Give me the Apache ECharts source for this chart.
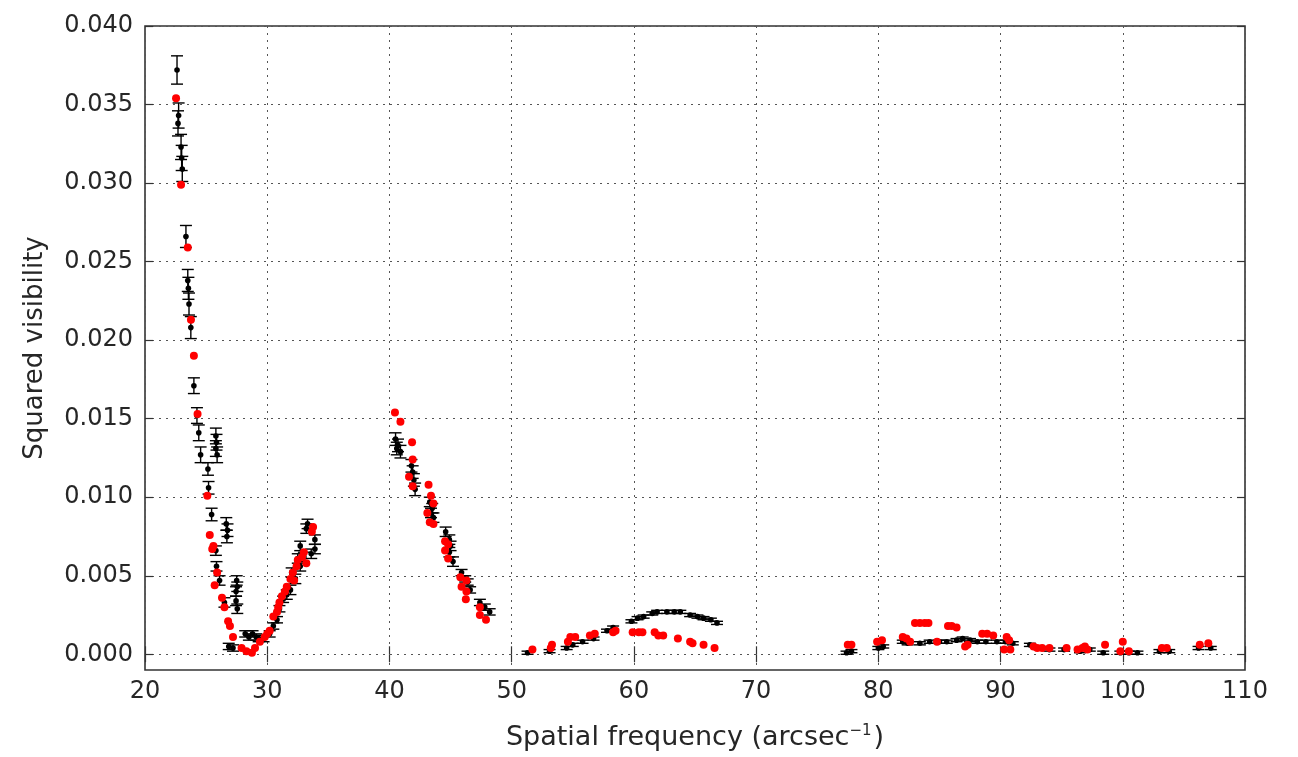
<!DOCTYPE html>
<html>
<head>
<meta charset="utf-8">
<title>Squared visibility vs spatial frequency</title>
<script src="https://cdn.jsdelivr.net/npm/echarts@6/dist/echarts.min.js"></script>
<style>
  html, body { margin: 0; padding: 0; background: #ffffff; }
  #chart { width: 1298px; height: 757px; }
</style>
</head>
<body>
<div id="chart"></div>
<script>
// Measured squared visibilities: spatial frequency, V^2, 1-sigma error
const measFreq = [
  22.62, 22.75, 22.70, 22.95, 23.00, 23.05, 23.35, 23.50, 23.55, 23.60, 23.75,
  24.00, 24.25, 24.40, 24.55, 25.15, 25.80, 25.85, 25.80, 25.90, 25.20, 25.45,
  26.65, 26.75, 26.70, 25.80, 25.85, 26.10, 27.50, 27.55, 27.45, 26.50, 27.45,
  27.55, 26.85, 27.20, 28.20, 28.50, 28.80, 29.10, 29.30, 29.70, 30.20, 30.50,
  30.80, 31.00, 31.30, 31.60, 31.90, 32.00, 32.30, 32.50, 32.70, 32.70, 33.00,
  33.30, 33.20, 33.90, 33.90, 33.60,
  40.50, 40.70, 40.90, 40.60, 41.80, 41.90, 42.00, 42.10, 43.30, 43.50, 43.60,
  43.40, 44.60, 44.90, 45.00, 44.90, 45.20, 45.90, 46.20, 46.40, 46.60, 47.40,
  47.80, 48.20,
  51.30, 53.10, 54.50, 55.00, 55.80, 56.70, 57.80, 58.30, 59.80, 60.30, 60.80,
  61.50, 61.90, 62.70, 63.30, 63.80, 64.60, 65.20, 65.70, 66.30, 66.80,
  77.40, 77.80, 80.00, 80.40, 82.00, 82.40, 83.40, 84.20, 85.00, 85.60, 86.40,
  86.90, 87.50, 88.10, 88.80, 89.70, 90.40, 91.00, 92.40, 93.20, 94.00, 95.20,
  96.50, 97.30, 98.40, 99.80, 100.50, 101.20, 103.00, 103.80, 106.20, 107.20
];
const measVis = [
  0.0372, 0.0343, 0.0338, 0.0323, 0.0316, 0.0309, 0.0266, 0.0238, 0.0233, 0.0223, 0.0208,
  0.0171, 0.0152, 0.0141, 0.0127, 0.0118, 0.0139, 0.0135, 0.0131, 0.0127, 0.0106, 0.0089,
  0.0083, 0.0079, 0.0075, 0.0066, 0.0056, 0.0047, 0.0047, 0.0043, 0.0040, 0.0033, 0.0034,
  0.0029, 0.0005, 0.0004, 0.0013, 0.0011, 0.0013, 0.0011, 0.0010, 0.0010, 0.0013, 0.0018,
  0.0022, 0.0029, 0.0035, 0.0038, 0.0041, 0.0052, 0.0048, 0.0061, 0.0056, 0.0069, 0.0062,
  0.0083, 0.0080, 0.0073, 0.0067, 0.0064,
  0.0137, 0.0133, 0.0129, 0.0131, 0.0120, 0.0116, 0.0111, 0.0105, 0.0097, 0.0093, 0.0087,
  0.0090, 0.0078, 0.0073, 0.0069, 0.0065, 0.0059, 0.0052, 0.0048, 0.0046, 0.0041, 0.0033,
  0.0030, 0.0027,
  0.0001, 0.0002, 0.0004, 0.0006, 0.0008, 0.0010, 0.0015, 0.0017, 0.0021, 0.0023, 0.0024,
  0.0026, 0.0027, 0.0027, 0.0027, 0.0027, 0.0025, 0.0024, 0.0023, 0.0022, 0.0020,
  0.0001, 0.0002, 0.0004, 0.0005, 0.0008, 0.0007, 0.0007, 0.0008, 0.0008, 0.0008, 0.0009,
  0.0010, 0.0009, 0.0008, 0.0008, 0.0008, 0.0008, 0.0007, 0.0006, 0.0004, 0.0003, 0.0003,
  0.0002, 0.0003, 0.0001, 0.0001, 0.0001, 0.0001, 0.0002, 0.0002, 0.0004, 0.0004
];
const measErr = [
  0.0009, 0.0008, 0.0008, 0.0008, 0.0008, 0.0008, 0.0007, 0.0007, 0.0007, 0.0007, 0.0007,
  0.0005, 0.0005, 0.0005, 0.0005, 0.0004, 0.0005, 0.0005, 0.0005, 0.0005, 0.0004, 0.0004,
  0.0004, 0.0004, 0.0004, 0.0003, 0.0003, 0.0003, 0.0003, 0.0003, 0.0003, 0.0003, 0.0003,
  0.0003, 0.0002, 0.0002, 0.0002, 0.0002, 0.0002, 0.0002, 0.0002, 0.0002, 0.0002, 0.0002,
  0.0002, 0.0002, 0.0002, 0.0003, 0.0003, 0.0003, 0.0003, 0.0003, 0.0003, 0.0003, 0.0003,
  0.0003, 0.0003, 0.0003, 0.0003, 0.0003,
  0.0004, 0.0004, 0.0004, 0.0004, 0.0004, 0.0004, 0.0004, 0.0004, 0.0003, 0.0003, 0.0003,
  0.0003, 0.0003, 0.0003, 0.0003, 0.0003, 0.0003, 0.0002, 0.0002, 0.0002, 0.0002, 0.0002,
  0.0002, 0.0002,
  0.0001, 0.0001, 0.0001, 0.0001, 0.0001, 0.0001, 0.0001, 0.0001, 0.0001, 0.0001, 0.0001,
  0.0001, 0.0001, 0.0001, 0.0001, 0.0001, 0.0001, 0.0001, 0.0001, 0.0001, 0.0001,
  0.0001, 0.0001, 0.0001, 0.0001, 0.0001, 0.0001, 0.0001, 0.0001, 0.0001, 0.0001, 0.0001,
  0.0001, 0.0001, 0.0001, 0.0001, 0.0001, 0.0001, 0.0001, 0.0001, 0.0001, 0.0001, 0.0001,
  0.0001, 0.0001, 0.0001, 0.0001, 0.0001, 0.0001, 0.0001, 0.0001, 0.0001, 0.0001
];

// Model squared visibilities
const modelFreq = [
  22.54, 22.95, 23.50, 23.76, 24.00, 24.30, 25.10, 25.30, 25.60, 25.50, 25.90,
  25.70, 26.30, 26.50, 26.80, 26.95, 27.20, 27.90, 28.30, 28.75, 29.00, 29.40,
  29.80, 30.00, 30.20, 30.50, 30.80, 30.90, 31.00, 31.20, 31.45, 31.60, 31.90,
  32.10, 32.20, 32.40, 32.50, 32.85, 33.00, 33.20, 33.65, 33.75,
  40.45, 40.90, 41.85, 41.90, 41.60, 41.90, 43.20, 43.40, 43.60, 43.10, 43.30,
  43.60, 44.55, 44.80, 44.55, 44.80, 45.80, 46.30, 45.90, 46.30, 46.25, 47.40,
  47.40, 47.90,
  51.70, 53.30, 53.20, 54.60, 54.80, 55.20, 56.40, 56.80, 58.30, 58.50, 59.90,
  60.40, 60.70, 61.70, 62.00, 62.40, 63.60, 64.60, 64.80, 65.70, 66.60,
  77.50, 77.80, 79.90, 80.30, 82.00, 82.30, 82.60, 83.00, 83.40, 83.80, 84.10,
  84.80, 85.70, 86.00, 86.40, 87.30, 87.10, 88.50, 88.90, 89.40, 90.50, 90.30,
  90.80, 90.70, 92.70, 93.00, 93.40, 94.00, 95.40, 96.30, 96.70, 96.90, 97.10,
  98.55, 100.00, 99.80, 100.50, 103.20, 103.60, 106.30, 107.00
];
const modelVis = [
  0.0354, 0.0299, 0.0259, 0.0213, 0.0190, 0.0153, 0.0101, 0.0076, 0.0069, 0.0067, 0.0052,
  0.0044, 0.0036, 0.0030, 0.0021, 0.0018, 0.0011, 0.0004, 0.0002, 0.0001, 0.0004, 0.0008,
  0.0011, 0.0013, 0.0015, 0.0024, 0.0027, 0.0030, 0.0033, 0.0037, 0.0040, 0.0043, 0.0048,
  0.0052, 0.0047, 0.0056, 0.0060, 0.0062, 0.0065, 0.0058, 0.0078, 0.0081,
  0.0154, 0.0148, 0.0135, 0.0124, 0.0113, 0.0107, 0.0108, 0.0101, 0.0096, 0.0090, 0.0084,
  0.0083, 0.0072, 0.0070, 0.0066, 0.0061, 0.0049, 0.0047, 0.0043, 0.0040, 0.0035, 0.0030,
  0.0025, 0.0022,
  0.0003, 0.0006, 0.0004, 0.0008, 0.0011, 0.0011, 0.0012, 0.0013, 0.0014, 0.0015, 0.0014,
  0.0014, 0.0014, 0.0014, 0.0012, 0.0012, 0.0010, 0.0008, 0.0007, 0.0006, 0.0004,
  0.0006, 0.0006, 0.0008, 0.0009, 0.0011, 0.0010, 0.0008, 0.0020, 0.0020, 0.0020, 0.0020,
  0.0008, 0.0018, 0.0018, 0.0017, 0.0006, 0.0005, 0.0013, 0.0013, 0.0012, 0.0011, 0.0003,
  0.0003, 0.0009, 0.0005, 0.0004, 0.0004, 0.0004, 0.0004, 0.0003, 0.0004, 0.0005, 0.0003,
  0.0006, 0.0008, 0.0002, 0.0002, 0.0004, 0.0004, 0.0006, 0.0007
];

const yTicks = [0, 0.005, 0.010, 0.015, 0.020, 0.025, 0.030, 0.035, 0.040];

const measData = measFreq.map((f, i) => [f, measVis[i], measErr[i]]);
const modelData = modelFreq.map((f, i) => [f, modelVis[i]]);

const FONT = 'DejaVu Sans';
const INK = '#262626';
const TICK_FONT = 24;
const GRID_LINE = { show: true, lineStyle: { color: '#555555', width: 1, type: [2, 5] } };
const TICK_LINE = { color: '#333333', width: 1.2 };

const chart = echarts.init(document.getElementById('chart'), null, { renderer: 'canvas' });

// Error bar with caps plus a small filled dot at the measured value
function renderErrorBar(params, api) {
  const x = api.value(0), y = api.value(1), e = api.value(2);
  const c = api.coord([x, y]);
  const top = api.coord([x, y + e]);
  const bot = api.coord([x, y - e]);
  const half = 6;
  const style = { stroke: '#000000', lineWidth: 1.4 };
  return {
    type: 'group',
    children: [
      { type: 'line', shape: { x1: c[0], y1: top[1], x2: c[0], y2: bot[1] }, style },
      { type: 'line', shape: { x1: c[0] - half, y1: top[1], x2: c[0] + half, y2: top[1] }, style },
      { type: 'line', shape: { x1: c[0] - half, y1: bot[1], x2: c[0] + half, y2: bot[1] }, style },
      { type: 'circle', shape: { cx: c[0], cy: c[1], r: 2.8 }, style: { fill: '#000000' } }
    ]
  };
}

chart.setOption({
  animation: false,
  backgroundColor: '#ffffff',
  textStyle: { fontFamily: FONT },
  grid: {
    left: 145, right: 53, top: 26, bottom: 87,
    show: true, borderColor: '#333333', borderWidth: 1.6, backgroundColor: 'transparent'
  },
  xAxis: [
    {
      type: 'value', min: 20, max: 110, interval: 10, position: 'bottom',
      name: 'Spatial frequency (arcsec{sup|−1})', nameLocation: 'middle', nameGap: 54,
      nameTextStyle: {
        fontFamily: FONT, fontSize: 27, color: INK,
        rich: { sup: { fontFamily: FONT, fontSize: 15, color: INK, verticalAlign: 'top', padding: [0, 2, 13, 0] } }
      },
      axisLine: { show: false },
      axisTick: { show: true, inside: true, length: 8, lineStyle: TICK_LINE },
      axisLabel: { fontFamily: FONT, fontSize: TICK_FONT, color: INK, margin: 10 },
      splitLine: GRID_LINE
    },
    {
      type: 'value', min: 20, max: 110, interval: 10, position: 'top',
      axisLine: { show: false },
      axisTick: { show: true, inside: true, length: 8, lineStyle: TICK_LINE },
      axisLabel: { show: false },
      splitLine: { show: false }
    }
  ],
  yAxis: [
    {
      type: 'value', min: -0.001, max: 0.040, position: 'left',
      name: 'Squared visibility', nameLocation: 'middle', nameGap: 97, nameRotate: 90,
      nameTextStyle: { fontFamily: FONT, fontSize: 26, color: INK },
      axisLine: { show: false },
      axisTick: { show: true, inside: true, length: 8, customValues: yTicks, lineStyle: TICK_LINE },
      axisLabel: { fontFamily: FONT, fontSize: TICK_FONT, color: INK, margin: 12, customValues: yTicks,
                   formatter: v => v.toFixed(3) },
      splitLine: GRID_LINE
    },
    {
      type: 'value', min: -0.001, max: 0.040, position: 'right',
      axisLine: { show: false },
      axisTick: { show: true, inside: true, length: 8, customValues: yTicks, lineStyle: TICK_LINE },
      axisLabel: { show: false, customValues: yTicks },
      splitLine: { show: false }
    }
  ],
  series: [
    {
      name: 'Measured',
      type: 'custom',
      xAxisIndex: 0, yAxisIndex: 0,
      renderItem: renderErrorBar,
      encode: { x: 0, y: 1 },
      data: measData,
      z: 2
    },
    {
      name: 'Model',
      type: 'scatter',
      xAxisIndex: 0, yAxisIndex: 0,
      symbol: 'circle',
      symbolSize: 8,
      itemStyle: { color: '#ff0000', opacity: 1 },
      data: modelData,
      z: 3
    }
  ]
});
</script>
</body>
</html>
